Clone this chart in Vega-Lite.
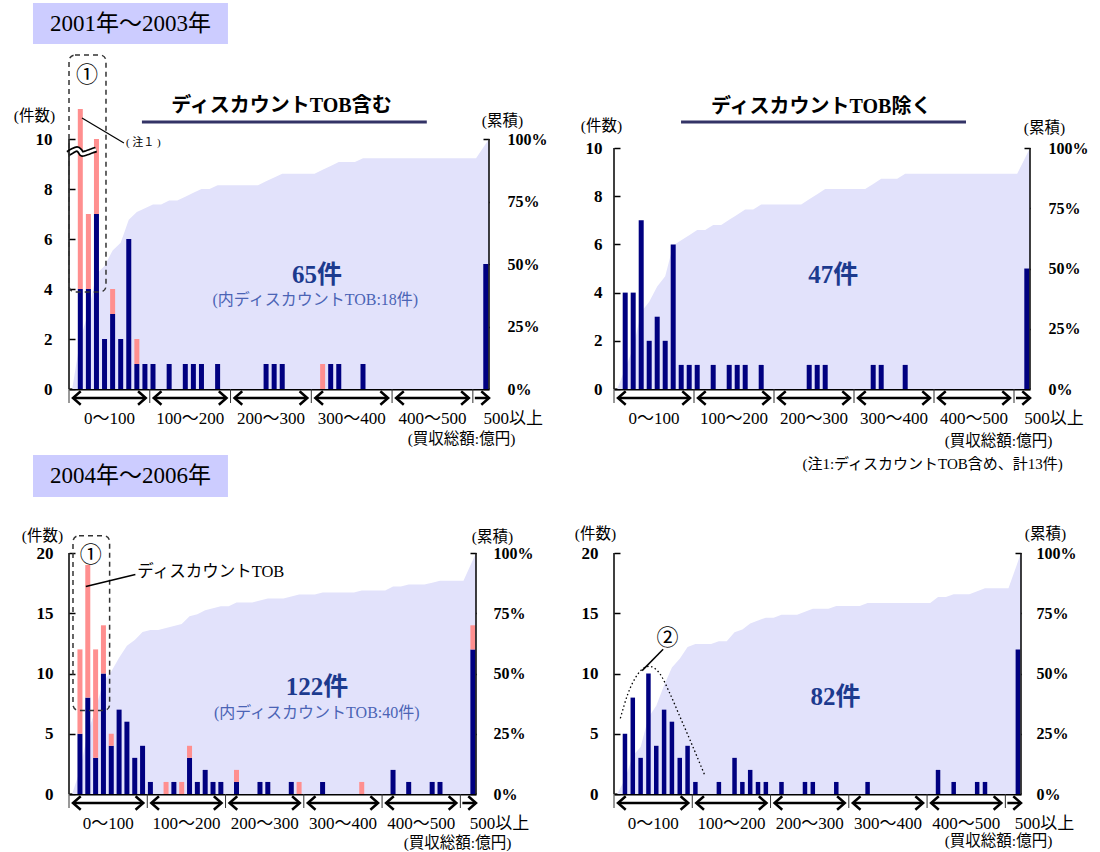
{
  "$schema": "https://vega.github.io/schema/vega-lite/v6.json",
  "background": "white",
  "padding": {"left": 13, "top": 3, "right": 5, "bottom": 5},
  "bounds": "flush",
  "columns": 2,
  "spacing": {"row": 164, "column": 125},
  "config": {
    "view": {"stroke": null},
    "scale": {"continuousPadding": 0},
    "axis": {"grid": false, "labelFont": "Liberation Serif", "labelFontWeight": "bold", "labelFontSize": 16, "labelColor": "#000", "titleFont": "Liberation Serif, Noto Sans CJK JP", "titleFontWeight": "normal", "titleFontSize": 15.5, "titleColor": "#000", "zindex": 1},
    "axisLeft": {"domain": false, "tickSize": -6, "tickColor": "#000", "tickWidth": 1.5, "labelFontSize": 17},
    "axisRight": {"domain": false, "tickSize": -6, "tickColor": "#000", "tickWidth": 1.5},
    "axisBottom": {"labels": false, "tickSize": -5, "tickColor": "#8c8c8c", "tickWidth": 2, "domainColor": "#000", "domainWidth": 2, "titleAlign": "center", "titleBaseline": "middle"},
    "text": {"font": "Liberation Serif, Noto Sans CJK JP", "color": "#000"}
  },
  "datasets": {
    "tl": [
      {"x": 14, "kind": "other", "n": 4}, {"x": 14, "kind": "discount", "n": 9},
      {"x": 24, "kind": "other", "n": 4}, {"x": 24, "kind": "discount", "n": 3},
      {"x": 34, "kind": "other", "n": 7}, {"x": 34, "kind": "discount", "n": 3},
      {"x": 44, "kind": "other", "n": 2},
      {"x": 54, "kind": "other", "n": 3}, {"x": 54, "kind": "discount", "n": 1},
      {"x": 64, "kind": "other", "n": 2},
      {"x": 74, "kind": "other", "n": 6},
      {"x": 84, "kind": "other", "n": 1}, {"x": 84, "kind": "discount", "n": 1},
      {"x": 94, "kind": "other", "n": 1},
      {"x": 104, "kind": "other", "n": 1},
      {"x": 124, "kind": "other", "n": 1},
      {"x": 144, "kind": "other", "n": 1},
      {"x": 154, "kind": "other", "n": 1},
      {"x": 164, "kind": "other", "n": 1},
      {"x": 184, "kind": "other", "n": 1},
      {"x": 244, "kind": "other", "n": 1},
      {"x": 254, "kind": "other", "n": 1},
      {"x": 264, "kind": "other", "n": 1},
      {"x": 314, "kind": "discount", "n": 1},
      {"x": 324, "kind": "other", "n": 1},
      {"x": 334, "kind": "other", "n": 1},
      {"x": 364, "kind": "other", "n": 1},
      {"x": 516, "kind": "other", "n": 5}
    ],
    "bl": [
      {"x": 14, "kind": "other", "n": 5}, {"x": 14, "kind": "discount", "n": 7},
      {"x": 24, "kind": "other", "n": 8}, {"x": 24, "kind": "discount", "n": 11},
      {"x": 34, "kind": "other", "n": 3}, {"x": 34, "kind": "discount", "n": 9},
      {"x": 44, "kind": "other", "n": 10}, {"x": 44, "kind": "discount", "n": 4},
      {"x": 54, "kind": "other", "n": 4}, {"x": 54, "kind": "discount", "n": 1},
      {"x": 64, "kind": "other", "n": 7},
      {"x": 74, "kind": "other", "n": 6},
      {"x": 84, "kind": "other", "n": 3},
      {"x": 94, "kind": "other", "n": 4},
      {"x": 104, "kind": "other", "n": 1},
      {"x": 124, "kind": "discount", "n": 1},
      {"x": 134, "kind": "other", "n": 1},
      {"x": 144, "kind": "discount", "n": 1},
      {"x": 154, "kind": "other", "n": 3}, {"x": 154, "kind": "discount", "n": 1},
      {"x": 164, "kind": "other", "n": 1},
      {"x": 174, "kind": "other", "n": 2},
      {"x": 184, "kind": "other", "n": 1},
      {"x": 194, "kind": "other", "n": 1},
      {"x": 214, "kind": "other", "n": 1}, {"x": 214, "kind": "discount", "n": 1},
      {"x": 244, "kind": "other", "n": 1},
      {"x": 254, "kind": "other", "n": 1},
      {"x": 284, "kind": "other", "n": 1},
      {"x": 294, "kind": "discount", "n": 1},
      {"x": 324, "kind": "other", "n": 1},
      {"x": 374, "kind": "discount", "n": 1},
      {"x": 414, "kind": "other", "n": 2},
      {"x": 434, "kind": "other", "n": 1},
      {"x": 464, "kind": "other", "n": 1},
      {"x": 474, "kind": "other", "n": 1},
      {"x": 516, "kind": "other", "n": 12}, {"x": 516, "kind": "discount", "n": 2}
    ],
    "tl_cum": [
      {"x": 4, "pct": 0}, {"x": 14, "pct": 20.0}, {"x": 24, "pct": 30.77}, {"x": 34, "pct": 46.15}, {"x": 44, "pct": 49.23}, {"x": 54, "pct": 55.38}, {"x": 64, "pct": 58.46}, {"x": 74, "pct": 67.69}, {"x": 84, "pct": 70.77}, {"x": 94, "pct": 72.31}, {"x": 104, "pct": 73.85}, {"x": 114, "pct": 73.85}, {"x": 124, "pct": 75.38}, {"x": 134, "pct": 75.38}, {"x": 144, "pct": 76.92}, {"x": 154, "pct": 78.46}, {"x": 164, "pct": 80.0}, {"x": 174, "pct": 80.0}, {"x": 184, "pct": 81.54}, {"x": 234, "pct": 81.54}, {"x": 244, "pct": 83.08}, {"x": 254, "pct": 84.62}, {"x": 264, "pct": 86.15}, {"x": 304, "pct": 86.15}, {"x": 314, "pct": 87.69}, {"x": 324, "pct": 89.23}, {"x": 334, "pct": 90.77}, {"x": 354, "pct": 90.77}, {"x": 364, "pct": 92.31}, {"x": 504, "pct": 92.31}, {"x": 520, "pct": 100}
    ],
    "tr_cum": [
      {"x": 4, "pct": 0}, {"x": 14, "pct": 8.51}, {"x": 24, "pct": 17.02}, {"x": 34, "pct": 31.91}, {"x": 44, "pct": 36.17}, {"x": 54, "pct": 42.55}, {"x": 64, "pct": 46.81}, {"x": 74, "pct": 59.57}, {"x": 84, "pct": 61.7}, {"x": 94, "pct": 63.83}, {"x": 104, "pct": 65.96}, {"x": 114, "pct": 65.96}, {"x": 124, "pct": 68.09}, {"x": 134, "pct": 68.09}, {"x": 144, "pct": 70.21}, {"x": 154, "pct": 72.34}, {"x": 164, "pct": 74.47}, {"x": 174, "pct": 74.47}, {"x": 184, "pct": 76.6}, {"x": 234, "pct": 76.6}, {"x": 244, "pct": 78.72}, {"x": 254, "pct": 80.85}, {"x": 264, "pct": 82.98}, {"x": 314, "pct": 82.98}, {"x": 324, "pct": 85.11}, {"x": 334, "pct": 87.23}, {"x": 354, "pct": 87.23}, {"x": 364, "pct": 89.36}, {"x": 504, "pct": 89.36}, {"x": 520, "pct": 100}
    ],
    "bl_cum": [
      {"x": 4, "pct": 0}, {"x": 14, "pct": 9.84}, {"x": 24, "pct": 25.41}, {"x": 34, "pct": 35.25}, {"x": 44, "pct": 46.72}, {"x": 54, "pct": 50.82}, {"x": 64, "pct": 56.56}, {"x": 74, "pct": 61.48}, {"x": 84, "pct": 63.93}, {"x": 94, "pct": 67.21}, {"x": 104, "pct": 68.03}, {"x": 114, "pct": 68.03}, {"x": 124, "pct": 68.85}, {"x": 134, "pct": 69.67}, {"x": 144, "pct": 70.49}, {"x": 154, "pct": 73.77}, {"x": 164, "pct": 74.59}, {"x": 174, "pct": 76.23}, {"x": 184, "pct": 77.05}, {"x": 194, "pct": 77.87}, {"x": 204, "pct": 77.87}, {"x": 214, "pct": 79.51}, {"x": 234, "pct": 79.51}, {"x": 244, "pct": 80.33}, {"x": 254, "pct": 81.15}, {"x": 274, "pct": 81.15}, {"x": 284, "pct": 81.97}, {"x": 294, "pct": 82.79}, {"x": 314, "pct": 82.79}, {"x": 324, "pct": 83.61}, {"x": 364, "pct": 83.61}, {"x": 374, "pct": 84.43}, {"x": 404, "pct": 84.43}, {"x": 414, "pct": 86.07}, {"x": 424, "pct": 86.07}, {"x": 434, "pct": 86.89}, {"x": 454, "pct": 86.89}, {"x": 464, "pct": 87.7}, {"x": 474, "pct": 88.52}, {"x": 504, "pct": 88.52}, {"x": 520, "pct": 100}
    ],
    "br_cum": [
      {"x": 4, "pct": 0}, {"x": 14, "pct": 6.1}, {"x": 24, "pct": 15.85}, {"x": 34, "pct": 19.51}, {"x": 44, "pct": 31.71}, {"x": 54, "pct": 36.59}, {"x": 64, "pct": 45.12}, {"x": 74, "pct": 52.44}, {"x": 84, "pct": 56.1}, {"x": 94, "pct": 60.98}, {"x": 104, "pct": 62.2}, {"x": 124, "pct": 62.2}, {"x": 134, "pct": 63.41}, {"x": 144, "pct": 63.41}, {"x": 154, "pct": 67.07}, {"x": 164, "pct": 68.29}, {"x": 174, "pct": 70.73}, {"x": 184, "pct": 71.95}, {"x": 194, "pct": 73.17}, {"x": 204, "pct": 73.17}, {"x": 214, "pct": 74.39}, {"x": 234, "pct": 74.39}, {"x": 244, "pct": 75.61}, {"x": 254, "pct": 76.83}, {"x": 274, "pct": 76.83}, {"x": 284, "pct": 78.05}, {"x": 314, "pct": 78.05}, {"x": 324, "pct": 79.27}, {"x": 404, "pct": 79.27}, {"x": 414, "pct": 81.71}, {"x": 424, "pct": 81.71}, {"x": 434, "pct": 82.93}, {"x": 454, "pct": 82.93}, {"x": 464, "pct": 84.15}, {"x": 474, "pct": 85.37}, {"x": 504, "pct": 85.37}, {"x": 520, "pct": 100}
    ],
    "segments": [
      {"lo": 0, "hi": 100, "mid": 50, "label": "0～100"},
      {"lo": 100, "hi": 200, "mid": 150, "label": "100～200"},
      {"lo": 200, "hi": 300, "mid": 250, "label": "200～300"},
      {"lo": 300, "hi": 400, "mid": 350, "label": "300～400"},
      {"lo": 400, "hi": 500, "mid": 450, "label": "400～500"}
    ],
    "seps": [{"v": 0}, {"v": 100}, {"v": 200}, {"v": 300}, {"v": 400}, {"v": 500}],
    "wave": [{"x": -1.2, "y": 9.42}, {"x": 4, "y": 9.52}, {"x": 10, "y": 9.6}, {"x": 13.5, "y": 9.52}, {"x": 16, "y": 9.4}, {"x": 22, "y": 9.45}, {"x": 28, "y": 9.52}, {"x": 33.5, "y": 9.58}],
    "curve": [{"x": 8.1, "y": 31.4}, {"x": 17.9, "y": 41.7}, {"x": 30.8, "y": 49.9}, {"x": 44.9, "y": 53}, {"x": 58.6, "y": 49.9}, {"x": 71.4, "y": 41.7}, {"x": 84.2, "y": 32.1}, {"x": 97, "y": 22.5}, {"x": 116.3, "y": 7.5}]
  },
  "concat": [
    {
      "width": 420, "height": 280,
      "data": {"values": [{}]},
      "resolve": {"scale": {"y": "independent"}},
      "layer": [
        {"data": {"name": "tl_cum"}, "mark": {"type": "area", "color": "#e2e2fb"},
          "encoding": {
            "x": {"field": "x", "type": "quantitative", "scale": {"domain": [0, 520]}},
            "y": {"field": "pct", "type": "quantitative", "scale": {"domain": [0, 112]},
              "axis": {"orient": "right", "values": [0, 25, 50, 75, 100], "labelExpr": "datum.value + '%'", "labelPadding": 24, "title": "(累積)", "titleAngle": 0, "titleAlign": "center", "titleBaseline": "middle", "titleX": 13, "titleY": 11}}}},
        {"data": {"name": "tl"}, "mark": {"type": "bar", "width": 5},
          "encoding": {
            "x": {"field": "x", "type": "quantitative", "scale": {"domain": [0, 520]},
              "axis": {"values": [50, 100, 150, 200, 250, 300, 350, 400, 450, 500], "title": "(買収総額:億円)", "titleX": 392, "titleY": 49}},
            "y": {"field": "n", "type": "quantitative", "stack": "zero", "scale": {"domain": [0, 11.2], "clamp": true},
              "axis": {"orient": "left", "values": [0, 2, 4, 6, 8, 10], "labelPadding": 23, "title": "(件数)", "titleAngle": 0, "titleAlign": "center", "titleBaseline": "middle", "titleX": -35, "titleY": 6}},
            "color": {"field": "kind", "type": "nominal", "scale": {"domain": ["other", "discount"], "range": ["#000080", "#ff8f8f"]}, "legend": null},
            "order": {"field": "kind", "type": "nominal", "sort": "descending"}}},
        {"data": {"name": "wave"}, "mark": {"type": "line", "color": "#000", "strokeWidth": 6, "interpolate": "monotone"},
          "encoding": {"x": {"field": "x", "type": "quantitative", "scale": {"domain": [0, 520]}}, "y": {"field": "y", "type": "quantitative", "scale": {"domain": [0, 11.2]}, "axis": null}}},
        {"data": {"name": "wave"}, "mark": {"type": "line", "color": "#fff", "strokeWidth": 2.6, "interpolate": "monotone"},
          "encoding": {"x": {"field": "x", "type": "quantitative", "scale": {"domain": [0, 520]}}, "y": {"field": "y", "type": "quantitative", "scale": {"domain": [0, 11.2]}, "axis": null}}},
        {"mark": {"type": "rule", "color": "#000", "strokeWidth": 1.5},
          "encoding": {"x": {"datum": 0, "scale": {"domain": [0, 520]}}, "y": {"datum": 0, "scale": {"domain": [0, 11.2]}, "axis": null}, "y2": {"datum": 10}}},
        {"mark": {"type": "rule", "color": "#000", "strokeWidth": 1.5},
          "encoding": {"x": {"datum": 520, "scale": {"domain": [0, 520]}}, "y": {"datum": 0, "scale": {"domain": [0, 11.2]}, "axis": null}, "y2": {"datum": 10}}},
        {"data": {"name": "seps"}, "mark": {"type": "rule", "color": "#333", "strokeWidth": 1, "y2Offset": 14},
          "encoding": {"x": {"field": "v", "type": "quantitative", "scale": {"domain": [0, 520]}}, "y": {"datum": 0, "scale": {"domain": [0, 11.2]}, "axis": null}, "y2": {"datum": 0}}},
        {"data": {"name": "segments"}, "mark": {"type": "rule", "color": "#000", "strokeWidth": 2.5, "xOffset": 5, "x2Offset": -5, "yOffset": 9},
          "encoding": {"x": {"field": "lo", "type": "quantitative", "scale": {"domain": [0, 520]}}, "x2": {"field": "hi"}, "y": {"datum": 0, "scale": {"domain": [0, 11.2]}, "axis": null}}},
        {"data": {"name": "segments"}, "mark": {"type": "point", "shape": "M1.15,-1L0,0L1.15,1", "filled": false, "size": 180, "color": "#000", "strokeWidth": 2.5, "opacity": 1, "xOffset": 4, "yOffset": 9},
          "encoding": {"x": {"field": "lo", "type": "quantitative", "scale": {"domain": [0, 520]}}, "y": {"datum": 0, "scale": {"domain": [0, 11.2]}, "axis": null}}},
        {"data": {"name": "segments"}, "mark": {"type": "point", "shape": "M-1.15,-1L0,0L-1.15,1", "filled": false, "size": 180, "color": "#000", "strokeWidth": 2.5, "opacity": 1, "xOffset": -4, "yOffset": 9},
          "encoding": {"x": {"field": "hi", "type": "quantitative", "scale": {"domain": [0, 520]}}, "y": {"datum": 0, "scale": {"domain": [0, 11.2]}, "axis": null}}},
        {"mark": {"type": "rule", "color": "#000", "strokeWidth": 2.5, "xOffset": 2, "yOffset": 9},
          "encoding": {"x": {"datum": 500, "scale": {"domain": [0, 520]}}, "x2": {"datum": 520}, "y": {"datum": 0, "scale": {"domain": [0, 11.2]}, "axis": null}}},
        {"mark": {"type": "point", "shape": "M-1.15,-1L0,0L-1.15,1", "filled": false, "size": 180, "color": "#000", "strokeWidth": 2.5, "opacity": 1, "yOffset": 9},
          "encoding": {"x": {"datum": 520, "scale": {"domain": [0, 520]}}, "y": {"datum": 0, "scale": {"domain": [0, 11.2]}, "axis": null}}},
        {"data": {"name": "segments"}, "mark": {"type": "text", "dy": 30, "fontSize": 17},
          "encoding": {"x": {"field": "mid", "type": "quantitative", "scale": {"domain": [0, 520]}}, "y": {"datum": 0, "scale": {"domain": [0, 11.2]}, "axis": null}, "text": {"field": "label"}}},
        {"mark": {"type": "text", "dy": 30, "fontSize": 17, "text": "500以上"},
          "encoding": {"x": {"datum": 550, "scale": {"domain": [0, 520]}}, "y": {"datum": 0, "scale": {"domain": [0, 11.2]}, "axis": null}}},
        {"mark": {"type": "rect", "color": "#ccccff"},
          "encoding": {"x": {"datum": -44.6, "scale": {"domain": [0, 520]}}, "x2": {"datum": 196.8}, "y": {"datum": 154.4, "scale": {"domain": [0, 112]}, "axis": null}, "y2": {"datum": 138}}},
        {"mark": {"type": "text", "text": "2001年～2003年", "fontSize": 23},
          "encoding": {"x": {"datum": 76.1, "scale": {"domain": [0, 520]}}, "y": {"datum": 146, "scale": {"domain": [0, 112]}, "axis": null}}},
        {"mark": {"type": "text", "text": "ディスカウントTOB含む", "fontSize": 20, "fontWeight": "bold"},
          "encoding": {"x": {"datum": 263, "scale": {"domain": [0, 520]}}, "y": {"datum": 113.2, "scale": {"domain": [0, 112]}, "axis": null}}},
        {"mark": {"type": "rule", "color": "#333366", "strokeWidth": 3},
          "encoding": {"x": {"datum": 90.3, "scale": {"domain": [0, 520]}}, "x2": {"datum": 443}, "y": {"datum": 106.8, "scale": {"domain": [0, 112]}, "axis": null}}},
        {"mark": {"type": "text", "text": "①", "fontSize": 22, "font": "Noto Sans CJK JP"},
          "encoding": {"x": {"datum": 22.3, "scale": {"domain": [0, 520]}}, "y": {"datum": 125.6, "scale": {"domain": [0, 112]}, "axis": null}}},
        {"mark": {"type": "rect", "filled": false, "color": "#333", "strokeWidth": 1.5, "strokeDash": [5, 4], "cornerRadius": 6},
          "encoding": {"x": {"datum": 0, "scale": {"domain": [0, 520]}}, "x2": {"datum": 45.8}, "y": {"datum": 133.6, "scale": {"domain": [0, 112]}, "axis": null}, "y2": {"datum": 38.8}}},
        {"mark": {"type": "rule", "color": "#000", "strokeWidth": 1.2},
          "encoding": {"x": {"datum": 16.1, "scale": {"domain": [0, 520]}}, "y": {"datum": 108.4, "scale": {"domain": [0, 112]}, "axis": null}, "x2": {"datum": 68}, "y2": {"datum": 98.4}}},
        {"mark": {"type": "text", "text": "( 注１ )", "fontSize": 11, "align": "left"},
          "encoding": {"x": {"datum": 70.5, "scale": {"domain": [0, 520]}}, "y": {"datum": 98.4, "scale": {"domain": [0, 112]}, "axis": null}}},
        {"mark": {"type": "text", "text": "65件", "fontSize": 25, "fontWeight": "bold", "color": "#1c3a8e"},
          "encoding": {"x": {"datum": 307, "scale": {"domain": [0, 520]}}, "y": {"datum": 45.6, "scale": {"domain": [0, 112]}, "axis": null}}},
        {"mark": {"type": "text", "text": "(内ディスカウントTOB:18件)", "fontSize": 16, "color": "#4b64b5"},
          "encoding": {"x": {"datum": 305, "scale": {"domain": [0, 520]}}, "y": {"datum": 35.6, "scale": {"domain": [0, 112]}, "axis": null}}}
      ]
    },
    {
      "width": 416, "height": 280,
      "data": {"values": [{}]},
      "resolve": {"scale": {"y": "independent"}},
      "layer": [
        {"data": {"name": "tr_cum"}, "mark": {"type": "area", "color": "#e2e2fb"},
          "encoding": {
            "x": {"field": "x", "type": "quantitative", "scale": {"domain": [0, 520]}},
            "y": {"field": "pct", "type": "quantitative", "scale": {"domain": [0, 116.2]},
              "axis": {"orient": "right", "values": [0, 25, 50, 75, 100], "labelExpr": "datum.value + '%'", "labelPadding": 24, "title": "(累積)", "titleAngle": 0, "titleAlign": "center", "titleBaseline": "middle", "titleX": 14, "titleY": 18}}}},
        {"data": {"name": "tl"}, "transform": [{"filter": "datum.kind == 'other'"}], "mark": {"type": "bar", "width": 5, "color": "#000080"},
          "encoding": {
            "x": {"field": "x", "type": "quantitative", "scale": {"domain": [0, 520]},
              "axis": {"values": [50, 100, 150, 200, 250, 300, 350, 400, 450, 500], "title": "(買収総額:億円)", "titleX": 384, "titleY": 51}},
            "y": {"field": "n", "type": "quantitative", "scale": {"domain": [0, 11.62]},
              "axis": {"orient": "left", "values": [0, 2, 4, 6, 8, 10], "labelPadding": 18, "title": "(件数)", "titleAngle": 0, "titleAlign": "center", "titleBaseline": "middle", "titleX": -13, "titleY": 16}}}},
        {"mark": {"type": "rule", "color": "#000", "strokeWidth": 1.5},
          "encoding": {"x": {"datum": 0, "scale": {"domain": [0, 520]}}, "y": {"datum": 0, "scale": {"domain": [0, 11.62]}, "axis": null}, "y2": {"datum": 10}}},
        {"mark": {"type": "rule", "color": "#000", "strokeWidth": 1.5},
          "encoding": {"x": {"datum": 520, "scale": {"domain": [0, 520]}}, "y": {"datum": 0, "scale": {"domain": [0, 11.62]}, "axis": null}, "y2": {"datum": 10}}},
        {"data": {"name": "seps"}, "mark": {"type": "rule", "color": "#333", "strokeWidth": 1, "y2Offset": 14},
          "encoding": {"x": {"field": "v", "type": "quantitative", "scale": {"domain": [0, 520]}}, "y": {"datum": 0, "scale": {"domain": [0, 11.62]}, "axis": null}, "y2": {"datum": 0}}},
        {"data": {"name": "segments"}, "mark": {"type": "rule", "color": "#000", "strokeWidth": 2.5, "xOffset": 5, "x2Offset": -5, "yOffset": 9},
          "encoding": {"x": {"field": "lo", "type": "quantitative", "scale": {"domain": [0, 520]}}, "x2": {"field": "hi"}, "y": {"datum": 0, "scale": {"domain": [0, 11.62]}, "axis": null}}},
        {"data": {"name": "segments"}, "mark": {"type": "point", "shape": "M1.15,-1L0,0L1.15,1", "filled": false, "size": 180, "color": "#000", "strokeWidth": 2.5, "opacity": 1, "xOffset": 4, "yOffset": 9},
          "encoding": {"x": {"field": "lo", "type": "quantitative", "scale": {"domain": [0, 520]}}, "y": {"datum": 0, "scale": {"domain": [0, 11.62]}, "axis": null}}},
        {"data": {"name": "segments"}, "mark": {"type": "point", "shape": "M-1.15,-1L0,0L-1.15,1", "filled": false, "size": 180, "color": "#000", "strokeWidth": 2.5, "opacity": 1, "xOffset": -4, "yOffset": 9},
          "encoding": {"x": {"field": "hi", "type": "quantitative", "scale": {"domain": [0, 520]}}, "y": {"datum": 0, "scale": {"domain": [0, 11.62]}, "axis": null}}},
        {"mark": {"type": "rule", "color": "#000", "strokeWidth": 2.5, "xOffset": 2, "yOffset": 9},
          "encoding": {"x": {"datum": 500, "scale": {"domain": [0, 520]}}, "x2": {"datum": 520}, "y": {"datum": 0, "scale": {"domain": [0, 11.62]}, "axis": null}}},
        {"mark": {"type": "point", "shape": "M-1.15,-1L0,0L-1.15,1", "filled": false, "size": 180, "color": "#000", "strokeWidth": 2.5, "opacity": 1, "yOffset": 9},
          "encoding": {"x": {"datum": 520, "scale": {"domain": [0, 520]}}, "y": {"datum": 0, "scale": {"domain": [0, 11.62]}, "axis": null}}},
        {"data": {"name": "segments"}, "mark": {"type": "text", "dy": 30, "fontSize": 17},
          "encoding": {"x": {"field": "mid", "type": "quantitative", "scale": {"domain": [0, 520]}}, "y": {"datum": 0, "scale": {"domain": [0, 11.62]}, "axis": null}, "text": {"field": "label"}}},
        {"mark": {"type": "text", "dy": 30, "fontSize": 17, "text": "500以上"},
          "encoding": {"x": {"datum": 550, "scale": {"domain": [0, 520]}}, "y": {"datum": 0, "scale": {"domain": [0, 11.62]}, "axis": null}}},
        {"mark": {"type": "text", "text": "ディスカウントTOB除く", "fontSize": 20, "fontWeight": "bold"},
          "encoding": {"x": {"datum": 259, "scale": {"domain": [0, 520]}}, "y": {"datum": 117, "scale": {"domain": [0, 116.2]}, "axis": null}}},
        {"mark": {"type": "rule", "color": "#333366", "strokeWidth": 3},
          "encoding": {"x": {"datum": 83.8, "scale": {"domain": [0, 520]}}, "x2": {"datum": 440}, "y": {"datum": 110.8, "scale": {"domain": [0, 116.2]}, "axis": null}}},
        {"mark": {"type": "text", "text": "47件", "fontSize": 25, "fontWeight": "bold", "color": "#1c3a8e"},
          "encoding": {"x": {"datum": 274, "scale": {"domain": [0, 520]}}, "y": {"datum": 47.3, "scale": {"domain": [0, 116.2]}, "axis": null}}},
        {"mark": {"type": "text", "text": "(注1:ディスカウントTOB含め、計13件)", "fontSize": 15, "align": "right"},
          "encoding": {"x": {"datum": 561, "scale": {"domain": [0, 520]}}, "y": {"datum": -31.1, "scale": {"domain": [0, 116.2]}, "axis": null}}}
      ]
    },
    {
      "width": 407, "height": 241,
      "data": {"values": [{}]},
      "resolve": {"scale": {"y": "independent"}},
      "layer": [
        {"data": {"name": "bl_cum"}, "mark": {"type": "area", "color": "#e2e2fb"},
          "encoding": {
            "x": {"field": "x", "type": "quantitative", "scale": {"domain": [0, 520]}},
            "y": {"field": "pct", "type": "quantitative", "scale": {"domain": [0, 100]},
              "axis": {"orient": "right", "values": [0, 25, 50, 75, 100], "labelExpr": "datum.value + '%'", "labelPadding": 23, "title": "(累積)", "titleAngle": 0, "titleAlign": "center", "titleBaseline": "middle", "titleX": 16, "titleY": -17}}}},
        {"data": {"name": "bl"}, "mark": {"type": "bar", "width": 5},
          "encoding": {
            "x": {"field": "x", "type": "quantitative", "scale": {"domain": [0, 520]},
              "axis": {"values": [50, 100, 150, 200, 250, 300, 350, 400, 450, 500], "title": "(買収総額:億円)", "titleX": 388, "titleY": 48}},
            "y": {"field": "n", "type": "quantitative", "stack": "zero", "scale": {"domain": [0, 20]},
              "axis": {"orient": "left", "values": [0, 5, 10, 15, 20], "labelPadding": 22, "title": "(件数)", "titleAngle": 0, "titleAlign": "center", "titleBaseline": "middle", "titleX": -27, "titleY": -18}},
            "color": {"field": "kind", "type": "nominal", "scale": {"domain": ["other", "discount"], "range": ["#000080", "#ff8f8f"]}, "legend": null},
            "order": {"field": "kind", "type": "nominal", "sort": "descending"}}},
        {"mark": {"type": "rule", "color": "#000", "strokeWidth": 1.5},
          "encoding": {"x": {"datum": 0, "scale": {"domain": [0, 520]}}, "y": {"datum": 0, "scale": {"domain": [0, 20]}, "axis": null}, "y2": {"datum": 20}}},
        {"mark": {"type": "rule", "color": "#000", "strokeWidth": 1.5},
          "encoding": {"x": {"datum": 520, "scale": {"domain": [0, 520]}}, "y": {"datum": 0, "scale": {"domain": [0, 20]}, "axis": null}, "y2": {"datum": 20}}},
        {"data": {"name": "seps"}, "mark": {"type": "rule", "color": "#333", "strokeWidth": 1, "y2Offset": 14},
          "encoding": {"x": {"field": "v", "type": "quantitative", "scale": {"domain": [0, 520]}}, "y": {"datum": 0, "scale": {"domain": [0, 20]}, "axis": null}, "y2": {"datum": 0}}},
        {"data": {"name": "segments"}, "mark": {"type": "rule", "color": "#000", "strokeWidth": 2.5, "xOffset": 5, "x2Offset": -5, "yOffset": 9},
          "encoding": {"x": {"field": "lo", "type": "quantitative", "scale": {"domain": [0, 520]}}, "x2": {"field": "hi"}, "y": {"datum": 0, "scale": {"domain": [0, 20]}, "axis": null}}},
        {"data": {"name": "segments"}, "mark": {"type": "point", "shape": "M1.15,-1L0,0L1.15,1", "filled": false, "size": 180, "color": "#000", "strokeWidth": 2.5, "opacity": 1, "xOffset": 4, "yOffset": 9},
          "encoding": {"x": {"field": "lo", "type": "quantitative", "scale": {"domain": [0, 520]}}, "y": {"datum": 0, "scale": {"domain": [0, 20]}, "axis": null}}},
        {"data": {"name": "segments"}, "mark": {"type": "point", "shape": "M-1.15,-1L0,0L-1.15,1", "filled": false, "size": 180, "color": "#000", "strokeWidth": 2.5, "opacity": 1, "xOffset": -4, "yOffset": 9},
          "encoding": {"x": {"field": "hi", "type": "quantitative", "scale": {"domain": [0, 520]}}, "y": {"datum": 0, "scale": {"domain": [0, 20]}, "axis": null}}},
        {"mark": {"type": "rule", "color": "#000", "strokeWidth": 2.5, "xOffset": 2, "yOffset": 9},
          "encoding": {"x": {"datum": 500, "scale": {"domain": [0, 520]}}, "x2": {"datum": 520}, "y": {"datum": 0, "scale": {"domain": [0, 20]}, "axis": null}}},
        {"mark": {"type": "point", "shape": "M-1.15,-1L0,0L-1.15,1", "filled": false, "size": 180, "color": "#000", "strokeWidth": 2.5, "opacity": 1, "yOffset": 9},
          "encoding": {"x": {"datum": 520, "scale": {"domain": [0, 520]}}, "y": {"datum": 0, "scale": {"domain": [0, 20]}, "axis": null}}},
        {"data": {"name": "segments"}, "mark": {"type": "text", "dy": 30, "fontSize": 17},
          "encoding": {"x": {"field": "mid", "type": "quantitative", "scale": {"domain": [0, 520]}}, "y": {"datum": 0, "scale": {"domain": [0, 20]}, "axis": null}, "text": {"field": "label"}}},
        {"mark": {"type": "text", "dy": 30, "fontSize": 17, "text": "500以上"},
          "encoding": {"x": {"datum": 550, "scale": {"domain": [0, 520]}}, "y": {"datum": 0, "scale": {"domain": [0, 20]}, "axis": null}}},
        {"mark": {"type": "rect", "color": "#ccccff"},
          "encoding": {"x": {"datum": -46, "scale": {"domain": [0, 520]}}, "x2": {"datum": 203.1}, "y": {"datum": 140.7, "scale": {"domain": [0, 100]}, "axis": null}, "y2": {"datum": 123.2}}},
        {"mark": {"type": "text", "text": "2004年～2006年", "fontSize": 23},
          "encoding": {"x": {"datum": 78.6, "scale": {"domain": [0, 520]}}, "y": {"datum": 132, "scale": {"domain": [0, 100]}, "axis": null}}},
        {"mark": {"type": "text", "text": "①", "fontSize": 22, "font": "Noto Sans CJK JP"},
          "encoding": {"x": {"datum": 27.8, "scale": {"domain": [0, 520]}}, "y": {"datum": 99.3, "scale": {"domain": [0, 100]}, "axis": null}}},
        {"mark": {"type": "rect", "filled": false, "color": "#333", "strokeWidth": 1.5, "strokeDash": [5, 4], "cornerRadius": 6},
          "encoding": {"x": {"datum": 5.1, "scale": {"domain": [0, 520]}}, "x2": {"datum": 51.9}, "y": {"datum": 107.2, "scale": {"domain": [0, 100]}, "axis": null}, "y2": {"datum": 34.6}}},
        {"mark": {"type": "rule", "color": "#000", "strokeWidth": 1.5},
          "encoding": {"x": {"datum": 21.5, "scale": {"domain": [0, 520]}}, "y": {"datum": 86.1, "scale": {"domain": [0, 100]}, "axis": null}, "x2": {"datum": 84.8}, "y2": {"datum": 91.1}}},
        {"mark": {"type": "text", "text": "ディスカウントTOB", "fontSize": 16.5, "align": "left"},
          "encoding": {"x": {"datum": 87.3, "scale": {"domain": [0, 520]}}, "y": {"datum": 92, "scale": {"domain": [0, 100]}, "axis": null}}},
        {"mark": {"type": "text", "text": "122件", "fontSize": 25, "fontWeight": "bold", "color": "#1c3a8e"},
          "encoding": {"x": {"datum": 317, "scale": {"domain": [0, 520]}}, "y": {"datum": 44.4, "scale": {"domain": [0, 100]}, "axis": null}}},
        {"mark": {"type": "text", "text": "(内ディスカウントTOB:40件)", "fontSize": 16, "color": "#4b64b5"},
          "encoding": {"x": {"datum": 316.5, "scale": {"domain": [0, 520]}}, "y": {"datum": 33.5, "scale": {"domain": [0, 100]}, "axis": null}}}
      ]
    },
    {
      "width": 407, "height": 241,
      "data": {"values": [{}]},
      "resolve": {"scale": {"y": "independent"}},
      "layer": [
        {"data": {"name": "br_cum"}, "mark": {"type": "area", "color": "#e2e2fb"},
          "encoding": {
            "x": {"field": "x", "type": "quantitative", "scale": {"domain": [0, 520]}},
            "y": {"field": "pct", "type": "quantitative", "scale": {"domain": [0, 100]},
              "axis": {"orient": "right", "values": [0, 25, 50, 75, 100], "labelExpr": "datum.value + '%'", "labelPadding": 21, "title": "(累積)", "titleAngle": 0, "titleAlign": "center", "titleBaseline": "middle", "titleX": 24, "titleY": -20}}}},
        {"data": {"name": "bl"}, "transform": [{"filter": "datum.kind == 'other'"}], "mark": {"type": "bar", "width": 4.5, "color": "#000080"},
          "encoding": {
            "x": {"field": "x", "type": "quantitative", "scale": {"domain": [0, 520]},
              "axis": {"values": [50, 100, 150, 200, 250, 300, 350, 400, 450, 500], "title": "(買収総額:億円)", "titleX": 384, "titleY": 46}},
            "y": {"field": "n", "type": "quantitative", "scale": {"domain": [0, 20]},
              "axis": {"orient": "left", "values": [0, 5, 10, 15, 20], "labelPadding": 22, "title": "(件数)", "titleAngle": 0, "titleAlign": "center", "titleBaseline": "middle", "titleX": -19, "titleY": -20}}}},
        {"mark": {"type": "rule", "color": "#000", "strokeWidth": 1.5},
          "encoding": {"x": {"datum": 0, "scale": {"domain": [0, 520]}}, "y": {"datum": 0, "scale": {"domain": [0, 20]}, "axis": null}, "y2": {"datum": 20}}},
        {"mark": {"type": "rule", "color": "#000", "strokeWidth": 1.5},
          "encoding": {"x": {"datum": 520, "scale": {"domain": [0, 520]}}, "y": {"datum": 0, "scale": {"domain": [0, 20]}, "axis": null}, "y2": {"datum": 20}}},
        {"data": {"name": "seps"}, "mark": {"type": "rule", "color": "#333", "strokeWidth": 1, "y2Offset": 14},
          "encoding": {"x": {"field": "v", "type": "quantitative", "scale": {"domain": [0, 520]}}, "y": {"datum": 0, "scale": {"domain": [0, 20]}, "axis": null}, "y2": {"datum": 0}}},
        {"data": {"name": "segments"}, "mark": {"type": "rule", "color": "#000", "strokeWidth": 2.5, "xOffset": 5, "x2Offset": -5, "yOffset": 9},
          "encoding": {"x": {"field": "lo", "type": "quantitative", "scale": {"domain": [0, 520]}}, "x2": {"field": "hi"}, "y": {"datum": 0, "scale": {"domain": [0, 20]}, "axis": null}}},
        {"data": {"name": "segments"}, "mark": {"type": "point", "shape": "M1.15,-1L0,0L1.15,1", "filled": false, "size": 180, "color": "#000", "strokeWidth": 2.5, "opacity": 1, "xOffset": 4, "yOffset": 9},
          "encoding": {"x": {"field": "lo", "type": "quantitative", "scale": {"domain": [0, 520]}}, "y": {"datum": 0, "scale": {"domain": [0, 20]}, "axis": null}}},
        {"data": {"name": "segments"}, "mark": {"type": "point", "shape": "M-1.15,-1L0,0L-1.15,1", "filled": false, "size": 180, "color": "#000", "strokeWidth": 2.5, "opacity": 1, "xOffset": -4, "yOffset": 9},
          "encoding": {"x": {"field": "hi", "type": "quantitative", "scale": {"domain": [0, 520]}}, "y": {"datum": 0, "scale": {"domain": [0, 20]}, "axis": null}}},
        {"mark": {"type": "rule", "color": "#000", "strokeWidth": 2.5, "xOffset": 2, "yOffset": 9},
          "encoding": {"x": {"datum": 500, "scale": {"domain": [0, 520]}}, "x2": {"datum": 520}, "y": {"datum": 0, "scale": {"domain": [0, 20]}, "axis": null}}},
        {"mark": {"type": "point", "shape": "M-1.15,-1L0,0L-1.15,1", "filled": false, "size": 180, "color": "#000", "strokeWidth": 2.5, "opacity": 1, "yOffset": 9},
          "encoding": {"x": {"datum": 520, "scale": {"domain": [0, 520]}}, "y": {"datum": 0, "scale": {"domain": [0, 20]}, "axis": null}}},
        {"data": {"name": "segments"}, "mark": {"type": "text", "dy": 30, "fontSize": 17},
          "encoding": {"x": {"field": "mid", "type": "quantitative", "scale": {"domain": [0, 520]}}, "y": {"datum": 0, "scale": {"domain": [0, 20]}, "axis": null}, "text": {"field": "label"}}},
        {"mark": {"type": "text", "dy": 30, "fontSize": 17, "text": "500以上"},
          "encoding": {"x": {"datum": 550, "scale": {"domain": [0, 520]}}, "y": {"datum": 0, "scale": {"domain": [0, 20]}, "axis": null}}},
        {"data": {"name": "curve"}, "mark": {"type": "line", "color": "#000", "strokeWidth": 1.3, "strokeDash": [1.5, 2.5], "interpolate": "monotone"},
          "encoding": {"x": {"field": "x", "type": "quantitative", "scale": {"domain": [0, 520]}}, "y": {"field": "y", "type": "quantitative", "scale": {"domain": [0, 100]}, "axis": null}}},
        {"mark": {"type": "rule", "color": "#000", "strokeWidth": 1.5},
          "encoding": {"x": {"datum": 35.9, "scale": {"domain": [0, 520]}}, "y": {"datum": 51.2, "scale": {"domain": [0, 100]}, "axis": null}, "x2": {"datum": 62.8}, "y2": {"datum": 60.1}}},
        {"mark": {"type": "text", "text": "②", "fontSize": 22, "font": "Noto Sans CJK JP"},
          "encoding": {"x": {"datum": 68.3, "scale": {"domain": [0, 520]}}, "y": {"datum": 64.9, "scale": {"domain": [0, 100]}, "axis": null}}},
        {"mark": {"type": "text", "text": "82件", "fontSize": 25, "fontWeight": "bold", "color": "#1c3a8e"},
          "encoding": {"x": {"datum": 283, "scale": {"domain": [0, 520]}}, "y": {"datum": 40.3, "scale": {"domain": [0, 100]}, "axis": null}}}
      ]
    }
  ]
}
